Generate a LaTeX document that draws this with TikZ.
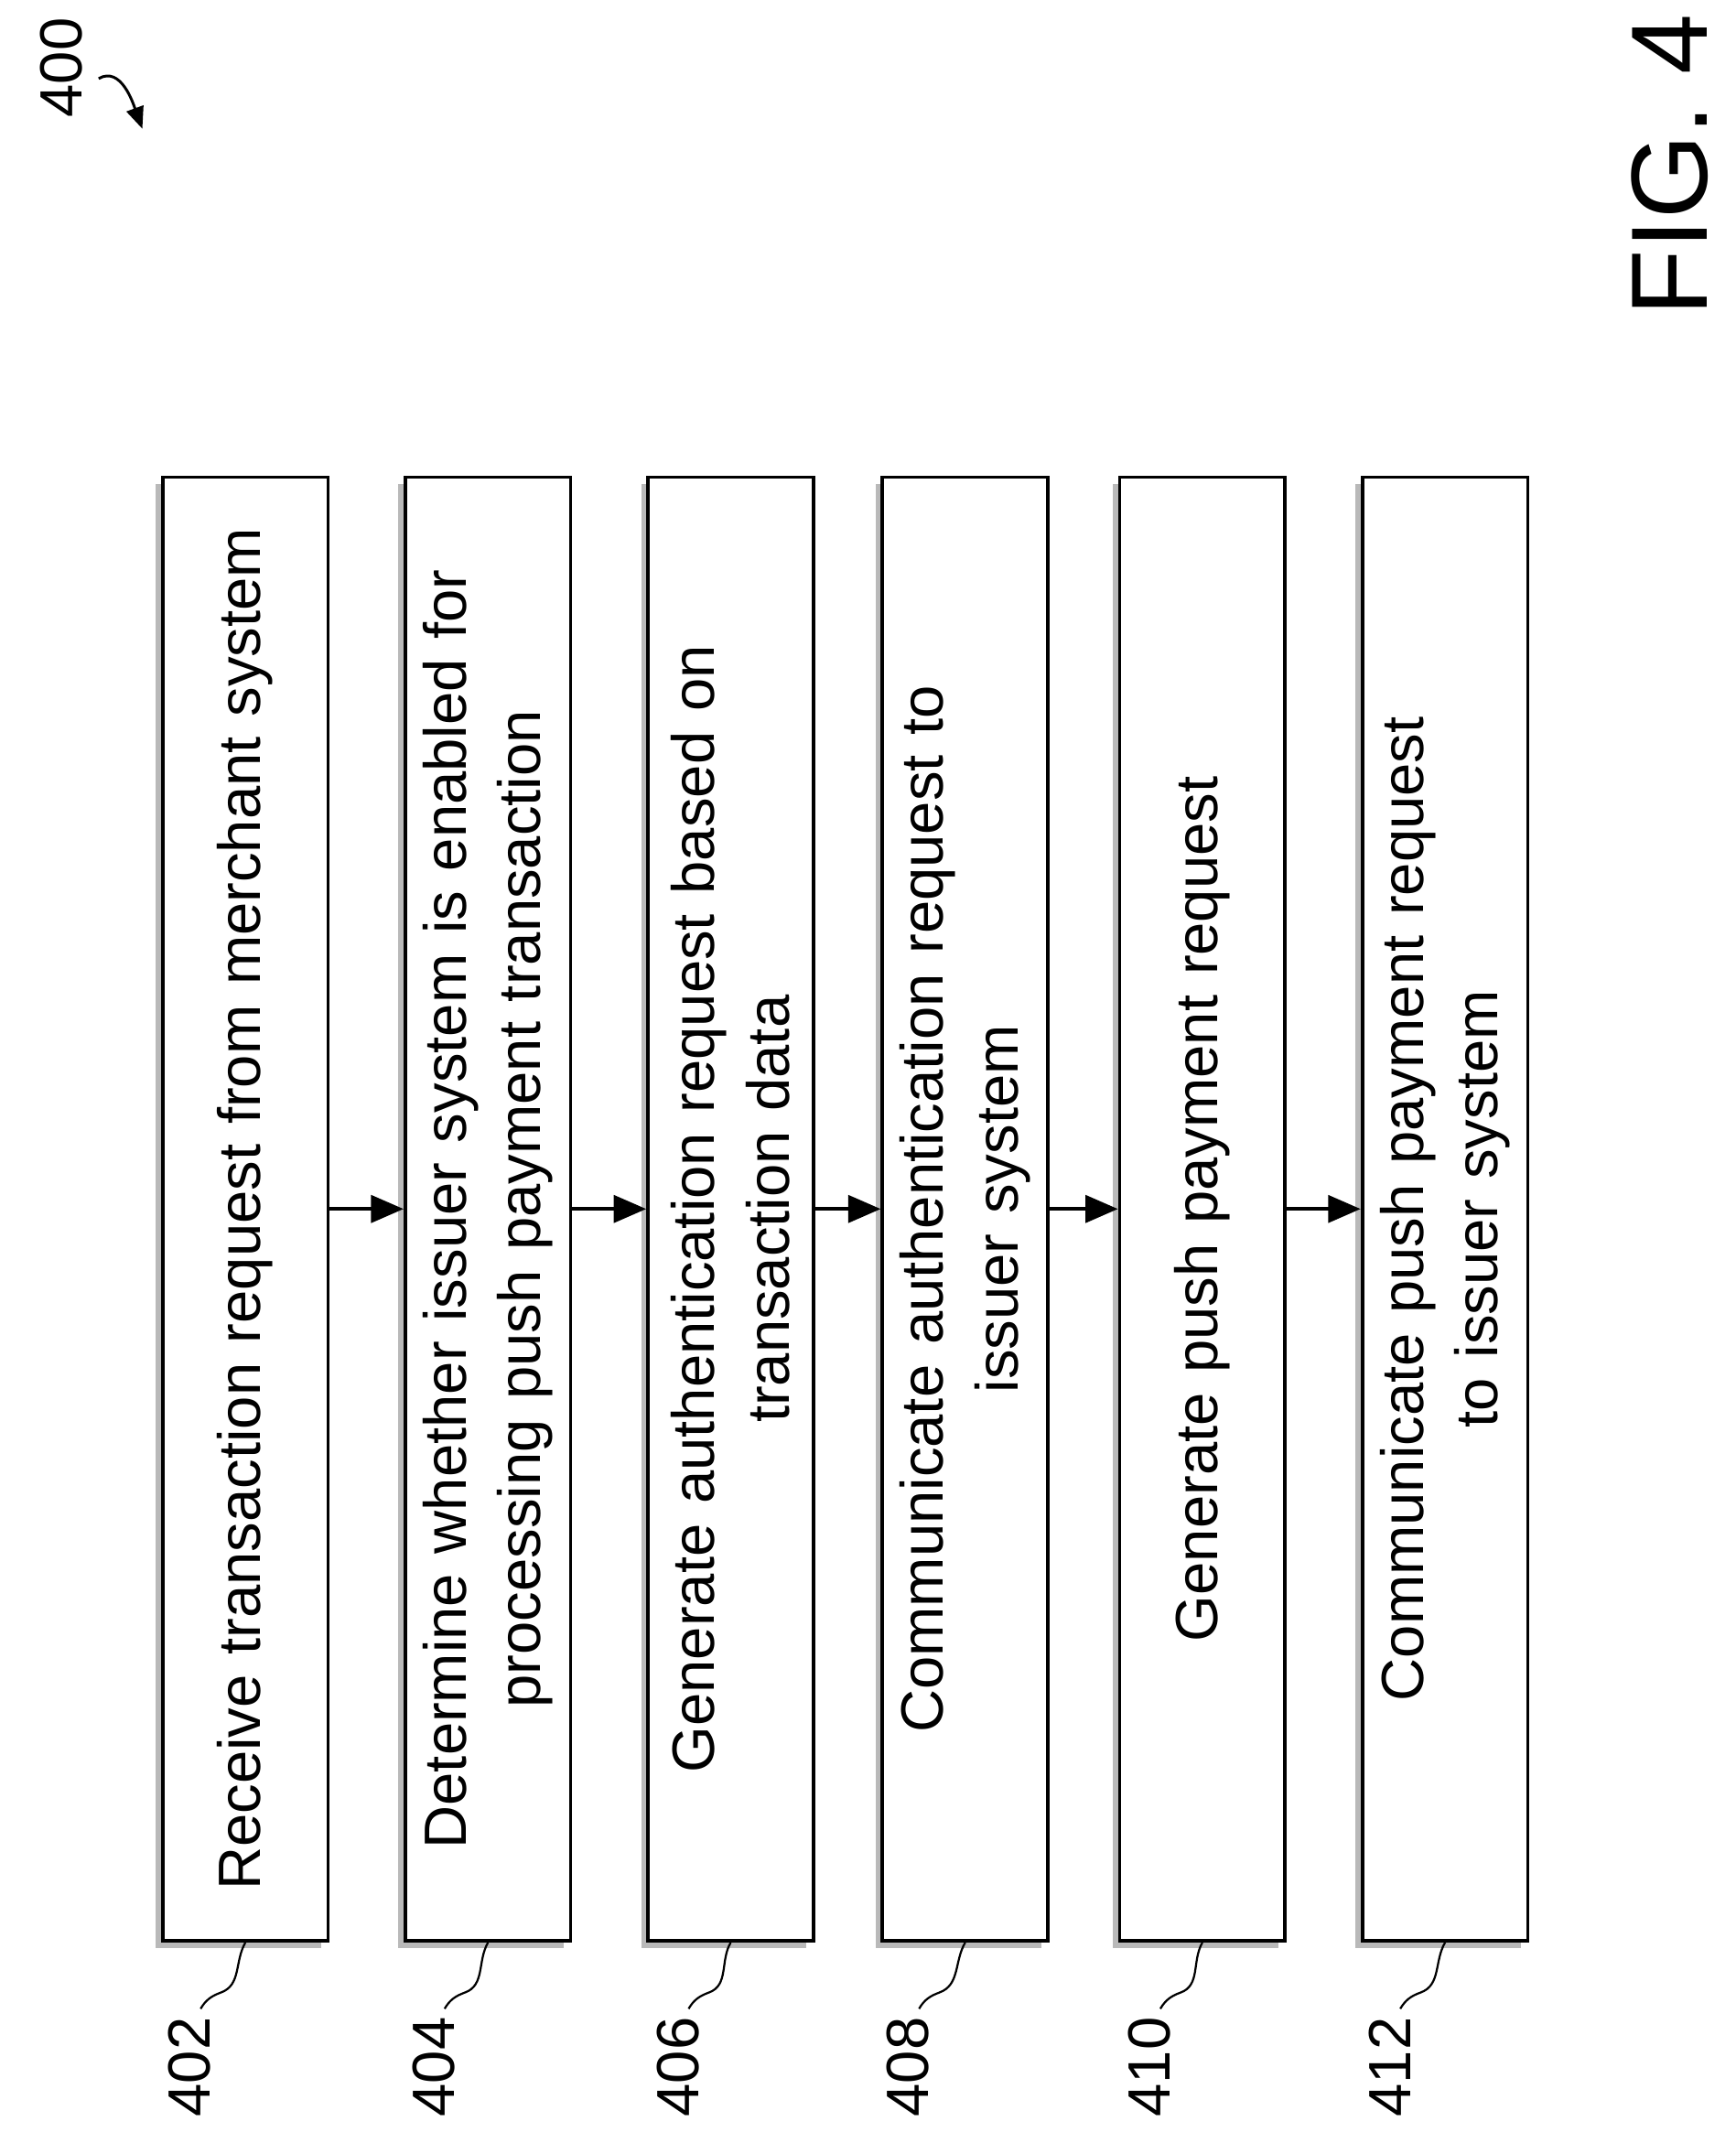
\documentclass[tikz,border=0pt]{standalone}
\usepackage{fontspec}
\setmainfont{Liberation Sans}
\usetikzlibrary{arrows.meta,positioning,shadows}

\tikzset{
  stepbox/.style={draw, line width=2.5pt, rotate=90, minimum width=1080pt, minimum height=122pt,
    text width=1040pt, align=center, fill=white, font=\fontsize{44}{55}\selectfont,
    drop shadow={shadow xshift=-5pt, shadow yshift=-5pt, fill=gray!55, opacity=1}},
  reflabel/.style={rotate=90, font=\fontsize{44}{50}\selectfont, inner sep=2pt},
  flow/.style={-{Triangle[length=24pt,width=20pt]}, line width=3pt},
  squig/.style={line width=1.5pt}
}

\begin{document}
\begin{tikzpicture}[x=1pt,y=1pt]
    \useasboundingbox (0,0) rectangle (1280,1573);

    % steps
    \node[stepbox] (s402) at (181,681) {Receive transaction request from merchant system};
    \node[stepbox] (s404) at (360,681) {Determine whether issuer system is enabled for\\processing push payment transaction};
    \node[stepbox] (s406) at (539,681) {Generate authentication request based on\\transaction data};
    \node[stepbox] (s408) at (712,681) {Communicate authentication request to\\issuer system};
    \node[stepbox] (s410) at (887,681) {Generate push payment request};
    \node[stepbox] (s412) at (1066,681) {Communicate push payment request\\to issuer system};

    \draw[flow] (s402.south) -- (s404.north);
    \draw[flow] (s404.south) -- (s406.north);
    \draw[flow] (s406.south) -- (s408.north);
    \draw[flow] (s408.south) -- (s410.north);
    \draw[flow] (s410.south) -- (s412.north);

    % reference numerals
    \foreach \n/\x in {402/140, 404/320, 406/500, 408/670, 410/848, 412/1025} {
        \node[reflabel] (l\n) at (\x,48) {\n};
        \draw[squig] (l\n.east) ++(8,4) to[out=60,in=200] ++(15,12) to[out=20,in=240] (s\n.west);
    }

    % figure number
    \node[reflabel, font=\fontsize{80}{90}\selectfont] (fig) at (1232,1451) {FIG. 4};
    \node[reflabel] (l400) at (45,1523) {400};
    \coordinate (a400) at (105,1478);
    \draw[line width=2pt, -{Triangle[length=16pt,width=13pt]}] (l400.south) ++(10,-8) to[out=30,in=110] (a400);
\end{tikzpicture}
\end{document}
